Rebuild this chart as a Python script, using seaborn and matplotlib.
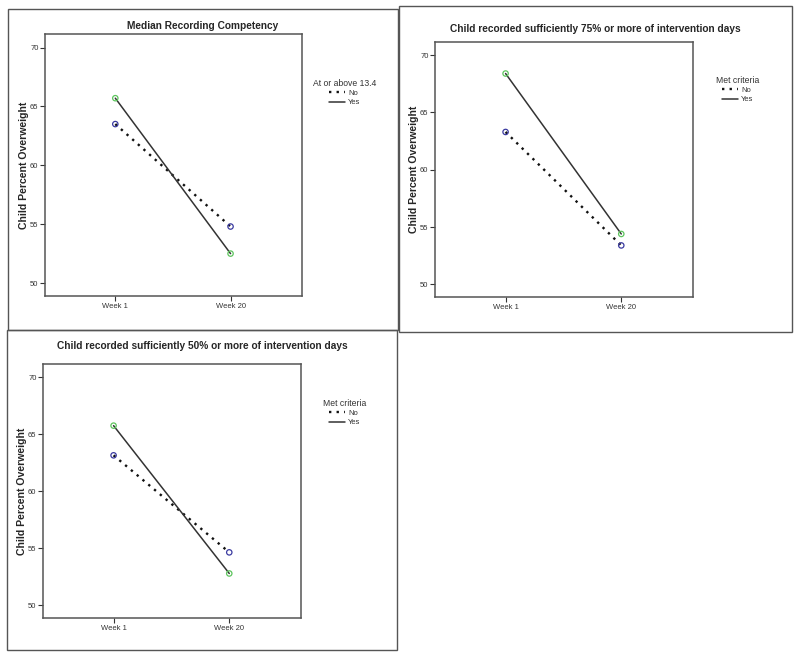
import matplotlib
matplotlib.use("Agg")
from matplotlib import pyplot as plt
from matplotlib.lines import Line2D
from matplotlib.patches import Rectangle
import pandas as pd
import seaborn as sns

weeks = ["Week 1", "Week 20"]
groups = ["No", "Yes"]

titles = ["Median Recording Competency",
          "Child recorded sufficiently 75% or more of intervention days",
          "Child recorded sufficiently 50% or more of intervention days"]
legend_titles = ["At or above 13.4", "Met criteria", "Met criteria"]

median_no = [63.5, 54.8]
median_yes = [65.7, 52.5]
p75_no = [63.3, 53.4]
p75_yes = [68.4, 54.4]
p50_no = [63.15, 54.65]
p50_yes = [65.75, 52.8]

panel_values = [(median_no, median_yes), (p75_no, p75_yes), (p50_no, p50_yes)]

sns.set_style("white")
plt.rcParams['font.family'] = ['Liberation Sans', 'DejaVu Sans']

W, H = 800, 659
fig = plt.figure(figsize=(W / 100, H / 100), dpi=100)


def px_rect(left, top, right, bottom):
    return [left / W, 1 - bottom / H, (right - left) / W, (bottom - top) / H]


# panel frames, axes boxes, title centres and legend spots, in pixels
frames = [(8, 9, 398, 330), (399, 6, 792, 332), (7, 330, 397, 650)]
boxes = [(45, 34, 302, 296), (435, 42, 693, 297), (43, 364, 301, 618)]
title_spots = [(203, 26), (595, 29), (202, 346)]
legend_spots = [(345, 75), (738, 72), (345, 395)]

line_styles = {"No": (0, (1, 2.2)), "Yes": "-"}
line_widths = {"No": 1.7, "Yes": 1.1}
line_colors = {"No": "#111111", "Yes": "#333333"}
marker_colors = {"No": "#3a3aa0", "Yes": "#5cc45c"}

for i in range(3):
    l, t, r, b = frames[i]
    fig.patches.append(Rectangle((l / W, 1 - b / H), (r - l) / W, (b - t) / H,
                                 transform=fig.transFigure, fill=False,
                                 edgecolor="#555555", linewidth=1.0))

    ax = fig.add_axes(px_rect(*boxes[i]))
    no_vals, yes_vals = panel_values[i]
    df = pd.DataFrame({
        "week": list(range(len(weeks))) * 2,
        "value": no_vals + yes_vals,
        "group": ["No"] * len(weeks) + ["Yes"] * len(weeks),
    })
    for g in groups:
        sub = df[df["group"] == g]
        sns.lineplot(data=sub, x="week", y="value", ax=ax, color=line_colors[g],
                     linestyle=line_styles[g], linewidth=line_widths[g],
                     legend=False)
        sns.scatterplot(data=sub, x="week", y="value", ax=ax, s=15,
                        facecolor="none", edgecolor=marker_colors[g],
                        linewidth=0.9, zorder=5, legend=False)

    ax.set_xlim(-0.61, 1.62)
    ax.set_ylim(48.9, 71.15)
    ax.set_xticks(range(len(weeks)))
    ax.set_xticklabels(weeks)
    ax.set_yticks([50, 55, 60, 65, 70])
    ax.tick_params(axis="both", direction="out", length=3.5, width=0.8,
                   colors="#333333", labelsize=5.5, pad=1.2,
                   bottom=True, left=True)
    for sp in ax.spines.values():
        sp.set_color("#555555")
        sp.set_linewidth(1.1)
    ax.set_xlabel("")
    ax.set_ylabel("Child Percent Overweight", fontsize=7.6, fontweight="bold")
    ax.yaxis.set_label_coords(-0.062, 0.5)

    tx, ty = title_spots[i]
    fig.text(tx / W, 1 - ty / H, titles[i], fontsize=7.3, fontweight="bold",
             ha="center", va="center")

    handles = [Line2D([], [], color=line_colors[g], linestyle=line_styles[g],
                      linewidth=line_widths[g]) for g in groups]
    lx, ly = legend_spots[i]
    leg = ax.legend(handles, groups, title=legend_titles[i], frameon=False,
                    loc="upper center", bbox_to_anchor=(lx / W, 1 - ly / H),
                    bbox_transform=fig.transFigure, fontsize=5.5,
                    title_fontsize=6.2, handlelength=2.1, handletextpad=0.4,
                    labelspacing=0.25, borderpad=0.0)
    leg.get_title().set_color("#333333")
    for txt in leg.get_texts():
        txt.set_color("#333333")

fig.savefig("out.png", dpi=100)
